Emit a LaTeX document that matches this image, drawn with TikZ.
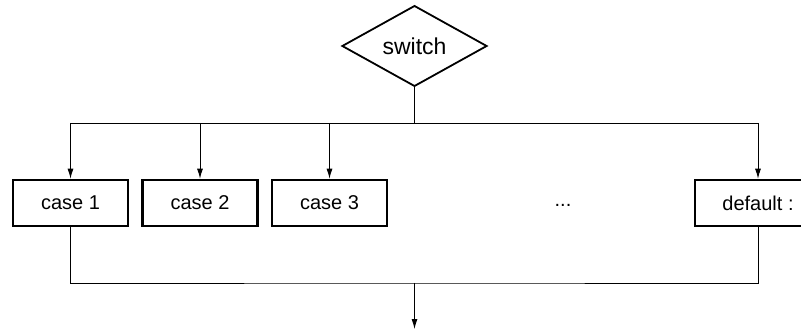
\documentclass[tikz,border=0pt]{standalone}
\usepackage{fontspec}
\setmainfont{Liberation Sans}
\usetikzlibrary{shapes.geometric,arrows.meta}
\begin{document}
\begin{tikzpicture}[x=1pt,y=1pt,
  keuze/.style={draw, diamond, line width=1.8pt, minimum width=145pt, minimum height=78pt, inner sep=0pt, font=\fontsize{23}{27}\selectfont},
  geval/.style={draw, line width=2.6pt, minimum width=115pt, minimum height=46pt, inner sep=0pt, font=\fontsize{20}{24}\selectfont},
  lijn/.style={line width=0.9pt},
  pijl/.style={lijn, -{Latex[length=10pt,width=6pt]}}]
\useasboundingbox (0,0) rectangle (801,335);
% Keuze
\node[keuze] (switch) at (414.5,289) {switch};
% Gevallen
\node[geval] (case1) at (70.5,132) {case 1};
\node[geval] (case2) at (200,132) {case 2};
\node[geval] (case3) at (329.5,132) {case 3};
\node[font=\fontsize{20}{24}\selectfont] (dots) at (563,130) {...};
\node[geval, minimum width=126pt] (default) at (758,132) {default :};
% Verdeellijn
\coordinate (split) at (414.5,212);
\draw[lijn] (switch.south) -- (split);
\draw[lijn] (case1 |- split) -- (default |- split);
\foreach \c in {case1,case2,case3,default}
  \draw[pijl] (\c |- split) -- (\c.north);
% Samenvoeging
\coordinate (join) at (414.5,52);
\coordinate (exit) at (414.5,6);
\draw[lijn] (case1.south) |- (join) -| (default.south);
\draw[pijl] (join) -- (exit);
\end{tikzpicture}
\end{document}
